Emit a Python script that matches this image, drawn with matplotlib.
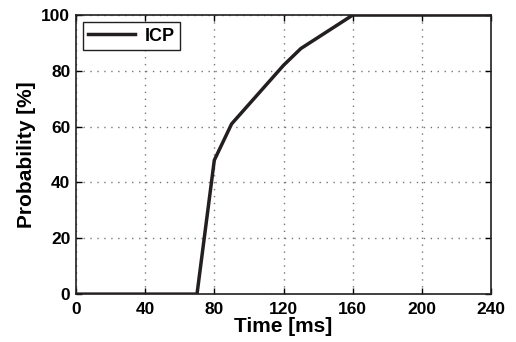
import matplotlib.pyplot as plt

time_ms = [0, 70, 80, 90, 100, 110, 120, 130, 140, 150, 160, 240]
prob = [0, 0, 48, 61, 68, 75, 82, 88, 92, 96, 100, 100]

plt.rcParams['font.family'] = ['Liberation Sans', 'DejaVu Sans']
plt.rcParams['font.weight'] = 'bold'

fig = plt.figure(figsize=(5.16, 3.42), dpi=100)
ax = fig.add_axes([0.147, 0.140, 0.805, 0.816])

ax.plot(time_ms, prob, color='#231f20', lw=2.5, label='ICP')

ax.set_xlim(0, 240)
ax.set_ylim(0, 100)
ax.set_xticks([0, 40, 80, 120, 160, 200, 240])
ax.set_yticks([0, 20, 40, 60, 80, 100])
ax.tick_params(axis='both', labelsize=12.5, direction='in', length=4, width=1,
               top=True, right=True)
ax.tick_params(axis='x', pad=6)
ax.tick_params(axis='y', pad=4)
for lab in ax.get_xticklabels() + ax.get_yticklabels():
    lab.set_fontweight('bold')
ax.grid(True, linestyle=(0, (1, 4)), color='#777777', lw=1.0)
for s in ax.spines.values():
    s.set_linewidth(1.2)
    s.set_color('#231f20')

ax.set_xlabel('Time [ms]', fontsize=15, fontweight='bold', labelpad=0)
ax.set_ylabel('Probability [%]', fontsize=15, fontweight='bold', labelpad=4)

leg = ax.legend(loc='upper left', fontsize=13, fancybox=False, framealpha=1,
                edgecolor='#231f20', handlelength=2.6, borderpad=0.3,
                borderaxespad=0.4, handletextpad=0.5)
leg.get_frame().set_linewidth(1.0)
for t in leg.get_texts():
    t.set_fontweight('bold')

plt.savefig('out.png')
